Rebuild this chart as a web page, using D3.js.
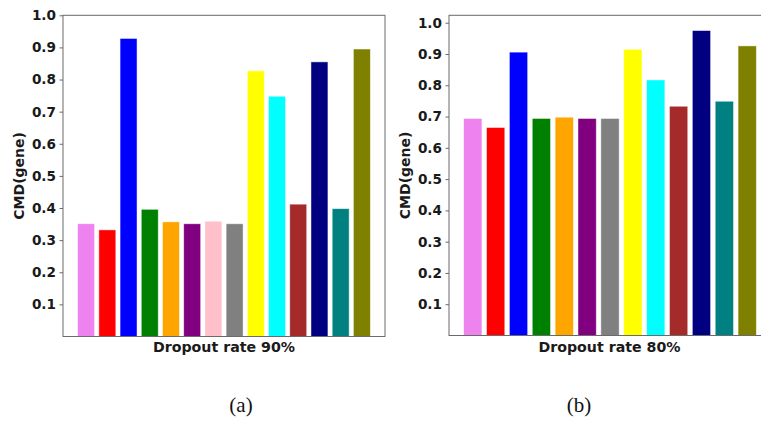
<!DOCTYPE html>
<html>
<head>
<meta charset="utf-8">
<script src="https://cdn.jsdelivr.net/npm/d3@7"></script>
<style>
  html, body { margin: 0; padding: 0; background: #fff; }
  svg { display: block; }
</style>
</head>
<body>
<svg id="chart" width="761" height="424"></svg>
<script>
// Methods, one colour each
const colorsA = ["violet", "red", "blue", "green", "orange", "purple", "pink", "gray",
                 "yellow", "cyan", "brown", "navy", "teal", "olive"];
const valuesA = [0.351, 0.332, 0.928, 0.396, 0.357, 0.351, 0.359, 0.351,
                 0.827, 0.748, 0.412, 0.855, 0.398, 0.895];

const colorsB = ["violet", "red", "blue", "green", "orange", "purple", "gray",
                 "yellow", "cyan", "brown", "navy", "teal", "olive"];
const valuesB = [0.694, 0.665, 0.906, 0.694, 0.698, 0.694, 0.694,
                 0.915, 0.817, 0.733, 0.975, 0.749, 0.926];

const yTicks = [0.1, 0.2, 0.3, 0.4, 0.5, 0.6, 0.7, 0.8, 0.9, 1.0];

const panels = [
  { colors: colorsA, values: valuesA, yMax: 1.0, xLabel: "Dropout rate 90%", caption: "(a)",
    left: 63, top: 15.3, bottom: 336.5, width: 322, captionX: 241 },
  { colors: colorsB, values: valuesB, yMax: null, xLabel: "Dropout rate 80%", caption: "(b)",
    left: 449, top: 15.3, bottom: 335.5, width: 322, captionX: 579 }
];

const svg = d3.select("#chart");
const bold = "'DejaVu Sans', sans-serif";

panels.forEach(p => {
  const n = p.values.length;
  const half = 0.4;
  const margin = 0.05 * (n - 1 + 2 * half);
  const x = d3.scaleLinear()
    .domain([-half - margin, n - 1 + half + margin])
    .range([p.left, p.left + p.width]);
  const yMax = p.yMax != null ? p.yMax : d3.max(p.values) * 1.05;
  const y = d3.scaleLinear().domain([0, yMax]).range([p.bottom, p.top]);

  const g = svg.append("g");

  // bars
  g.selectAll("rect.bar")
    .data(p.values)
    .join("rect")
    .attr("class", "bar")
    .attr("x", (d, i) => x(i - half))
    .attr("width", (d, i) => x(i + half) - x(i - half))
    .attr("y", d => y(d))
    .attr("height", d => y(0) - y(d))
    .attr("fill", (d, i) => p.colors[i])
    .attr("stroke", "#ffffff")
    .attr("stroke-opacity", 0.6)
    .attr("stroke-width", 0.8);

  // frame
  g.append("rect")
    .attr("x", p.left)
    .attr("y", p.top)
    .attr("width", p.width)
    .attr("height", p.bottom - p.top)
    .attr("fill", "none")
    .attr("stroke", "#6a6a6a")
    .attr("stroke-width", 1);

  // y axis
  const yAxis = d3.axisLeft(y)
    .tickValues(yTicks.filter(t => t <= yMax + 1e-9))
    .tickFormat(d3.format(".1f"))
    .tickSize(3.5)
    .tickPadding(3.5);
  const ag = g.append("g")
    .attr("transform", `translate(${p.left},0)`)
    .call(yAxis);
  ag.select(".domain").remove();
  ag.selectAll(".tick line").attr("stroke", "#6a6a6a");
  ag.selectAll(".tick text")
    .attr("font-family", bold)
    .attr("font-weight", "bold")
    .attr("font-size", 13.6)
    .attr("fill", "#1a1a1a");

  // axis titles
  g.append("text")
    .attr("x", p.left + p.width / 2 - (p.left === 449 ? 0.5 : 0))
    .attr("y", 351.5)
    .attr("text-anchor", "middle")
    .attr("font-family", bold)
    .attr("font-weight", "bold")
    .attr("font-size", 14.2)
    .attr("fill", "#1a1a1a")
    .text(p.xLabel);

  g.append("text")
    .attr("transform", `translate(${p.left - 39},${(p.top + p.bottom) / 2}) rotate(-90)`)
    .attr("text-anchor", "middle")
    .attr("font-family", bold)
    .attr("font-weight", "bold")
    .attr("font-size", 14)
    .attr("fill", "#1a1a1a")
    .text("CMD(gene)");

  // sub-figure caption
  svg.append("text")
    .attr("x", p.captionX)
    .attr("y", 411.5)
    .attr("text-anchor", "middle")
    .attr("font-family", "'Liberation Serif', 'Times New Roman', serif")
    .attr("font-size", 21)
    .attr("fill", "#111")
    .text(p.caption);
});
</script>
</body>
</html>
